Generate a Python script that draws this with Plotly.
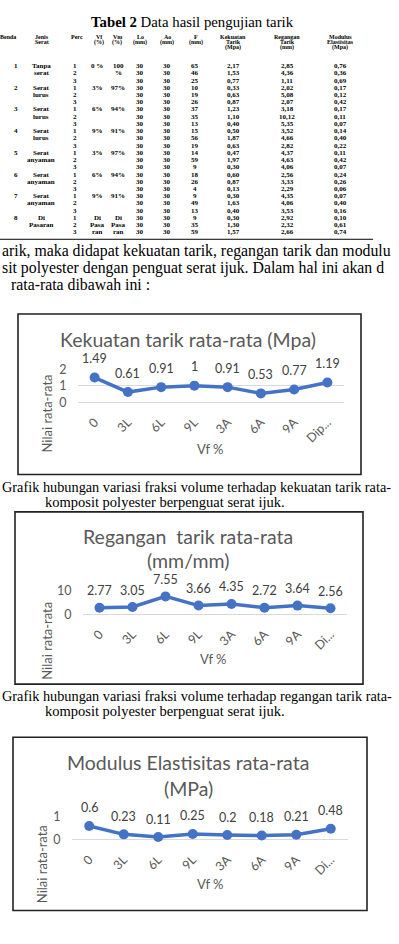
import plotly.graph_objects as go

W, H = 399, 944
def px(x): return x / W
def py(y): return 1 - y / H

# ---------------- data ----------------
categories = ["0", "3L", "6L", "9L", "3A", "6A", "9A", "Dipasaran"]
ticks_kekuatan = ["0", "3L", "6L", "9L", "3A", "6A", "9A", "Dip..."]
ticks_regangan = ["0", "3L", "6L", "9L", "3A", "6A", "9A", "Di..."]
ticks_modulus = ["0", "3L", "6L", "9L", "3A", "6A", "9A", "Di..."]
kekuatan_avg = [1.49, 0.61, 0.91, 1, 0.91, 0.53, 0.77, 1.19]
regangan_avg = [2.77, 3.05, 7.55, 3.66, 4.35, 2.72, 3.64, 2.56]
modulus_avg = [0.6, 0.23, 0.11, 0.25, 0.2, 0.18, 0.21, 0.48]

tbl_benda = ["1", "", "", "2", "", "", "3", "", "", "4", "", "", "5", "", "", "6", "", "", "7", "", "", "8", "", ""]
tbl_jenis = ["Tanpa", "serat", "", "Serat", "lurus", "", "Serat", "lurus", "", "Serat", "lurus", "",
             "Serat", "anyaman", "", "Serat", "anyaman", "", "Serat", "anyaman", "", "Di", "Pasaran", ""]
tbl_perc = ["1", "2", "3"] * 8
tbl_vf = ["0 %", "", "", "3%", "", "", "6%", "", "", "9%", "", "", "3%", "", "", "6%", "", "", "9%", "", "",
          "Di", "Pasa", "ran"]
tbl_vm = ["100", "%", "", "97%", "", "", "94%", "", "", "91%", "", "", "97%", "", "", "94%", "", "", "91%", "", "",
          "Di", "Pasa", "ran"]
tbl_lo = ["30"] * 24
tbl_ao = ["30"] * 24
tbl_f = ["65", "46", "25", "10", "19", "26", "37", "35", "13", "15", "56", "19",
         "14", "59", "9", "18", "26", "4", "9", "49", "13", "9", "35", "59"]
tbl_kekuatan = ["2,17", "1,53", "0,77", "0,33", "0,63", "0,87", "1,23", "1,10", "0,40", "0,50", "1,87", "0,63",
                "0,47", "1,97", "0,30", "0,60", "0,87", "0,13", "0,30", "1,63", "0,40", "0,30", "1,30", "1,57"]
tbl_regangan = ["2,85", "4,36", "1,11", "2,02", "5,08", "2,07", "3,18", "10,12", "5,35", "3,52", "4,66", "2,82",
                "4,37", "4,63", "4,06", "2,56", "3,33", "2,29", "4,35", "4,06", "3,53", "2,92", "2,32", "2,66"]
tbl_modulus = ["0,76", "0,36", "0,69", "0,17", "0,12", "0,42", "0,17", "0,11", "0,07", "0,14", "0,40", "0,22",
               "0,11", "0,42", "0,07", "0,24", "0,26", "0,06", "0,07", "0,40", "0,16", "0,10", "0,61", "0,74"]
tbl_headers = [["Benda"], ["Jenis", "Serat"], ["Perc"], ["Vf", "(%)"], ["Vm", "(%)"], ["Lo", "(mm)"],
               ["Ao", "(mm)"], ["F", "(mm)"], ["Kekuatan", "Tarik", "(Mpa)"], ["Regangan", "Tarik", "(mm)"],
               ["Modulus", "Elastisitas", "(Mpa)"]]

# ---------------- layout helpers ----------------
fig = go.Figure()
ann = []
shapes = []
SERIF = "Liberation Serif"
SANS = "Lato"
GREY = "#595959"

def text(x, y, s, size, family=SERIF, color="black", xanchor="center", **kw):
    ann.append(dict(x=px(x), y=py(y), xref="paper", yref="paper", text=s, showarrow=False,
                    xanchor=xanchor, yanchor="middle", font=dict(size=size, family=family, color=color), **kw))

# Table title
text(192, 14, "<b>Tabel 2</b> Data hasil pengujian tarik", 14.8)

col_x = [8, 42, 77, 99, 117, 140, 167, 196, 233, 287, 340]
for cx, lines in zip(col_x, tbl_headers):
    for j, ln in enumerate(lines):
        text(cx, 29.5 + 5.3 * j, "<b>" + ln + "</b>", 6)

val_x = [16, 41, 75, 97, 118, 140, 167, 195, 233, 287, 340]
cols = [tbl_benda, tbl_jenis, tbl_perc, tbl_vf, tbl_vm, tbl_lo, tbl_ao, tbl_f, tbl_kekuatan, tbl_regangan, tbl_modulus]
for i in range(24):
    yy = 59 + 7.35 * i
    for cx, col in zip(val_x, cols):
        if col[i]:
            text(cx, yy, "<b>" + col[i] + "</b>", 7)

shapes.append(dict(type="line", xref="paper", yref="paper", x0=px(0), x1=px(373), y0=py(235), y1=py(235),
                   line=dict(color="black", width=1)))

# paragraph (visible part of the cropped page)
text(0, 247, "arik, maka didapat kekuatan tarik, regangan tarik dan modulu", 15.8, xanchor="left")
text(0, 264, "sit polyester dengan penguat serat ijuk. Dalam hal ini akan d", 15.8, xanchor="left")
text(9, 281, "rata-rata dibawah ini :", 15.8, xanchor="left")

# captions
text(0, 487, "Grafik hubungan variasi fraksi volume terhadap kekuatan tarik rata-", 14.3, xanchor="left")
text(43, 502, "komposit polyester berpenguat serat ijuk.", 14.5, xanchor="left")
text(0, 699, "Grafik hubungan variasi fraksi volume terhadap regangan tarik rata-", 14.3, xanchor="left")
text(43, 714, "komposit polyester berpenguat serat ijuk.", 14.5, xanchor="left")

# ---------------- charts ----------------
charts = [
    dict(vals=kekuatan_avg, ticks=ticks_kekuatan, title=["Kekuatan tarik rata-rata (Mpa)"], box=(18, 311, 361, 474),
         plotx=(78, 344), y0=400.5, y1=367, rng=[0, 2], tv=[0, 1, 2], titley=[337], ytitle=(47, 412), xtitle=(210, 448),
         lab=19),
    dict(vals=regangan_avg, ticks=ticks_regangan, title=["Regangan  tarik rata-rata", "(mm/mm)"], box=(15, 512, 363, 687),
         plotx=(83, 347), y0=616, y1=592, rng=[0, 10], tv=[0, 10], titley=[537, 561], ytitle=(47, 643), xtitle=(213, 662),
         lab=17),
    dict(vals=modulus_avg, ticks=ticks_modulus, title=["Modulus Elastisitas rata-rata", "(MPa)"], box=(13, 741, 367, 917),
         plotx=(72, 348), y0=845, y1=822, rng=[0, 1], tv=[0, 1], titley=[767, 793], ytitle=(42, 870), xtitle=(210, 890),
         lab=18),
]

for k, c in enumerate(charts, start=1):
    xa = "x" if k == 1 else f"x{k}"
    ya = "y" if k == 1 else f"y{k}"
    fig.add_trace(go.Scatter(x=categories, y=c["vals"], mode="lines+markers", xaxis=xa, yaxis=ya,
                             line=dict(color="#4472C4", width=3.5), marker=dict(size=10, color="#4472C4"),
                             cliponaxis=False, showlegend=False, hoverinfo="skip"))
    for cat, v in zip(categories, c["vals"]):
        ann.append(dict(x=cat, y=v, xref=xa, yref=ya, text=f"{v:g}", showarrow=False, yshift=c["lab"],
                        font=dict(size=12.5, family=SANS, color="#404040")))
    x0, y0b, x1, y1b = c["box"]
    shapes.append(dict(type="rect", xref="paper", yref="paper", x0=px(x0), x1=px(x1), y0=py(y1b), y1=py(y0b),
                       line=dict(color="#222222", width=1.6)))
    cx = 188
    for t, ty in zip(c["title"], c["titley"]):
        text(cx, ty, t, 19.5, family=SANS, color=GREY)
    text(c["ytitle"][0], c["ytitle"][1], "Nilai rata-rata", 13, family=SANS, color=GREY, textangle=-90)
    text(c["xtitle"][0], c["xtitle"][1], "Vf %", 13, family=SANS, color=GREY)
    key = "" if k == 1 else str(k)
    fig.layout["xaxis" + key] = dict(domain=[px(c["plotx"][0]), px(c["plotx"][1])], anchor=ya, type="category",
                                     range=[-0.5, 7.5], showgrid=False, showline=False, zeroline=False,
                                     tickvals=categories, ticktext=c["ticks"], tickangle=-45,
                                     ticks="outside", ticklen=7, tickcolor="rgba(0,0,0,0)",
                                     tickfont=dict(size=12.5, family=SANS, color=GREY))
    fig.layout["yaxis" + key] = dict(domain=[py(c["y0"]), py(c["y1"])], anchor=xa, range=c["rng"],
                                     tickvals=c["tv"], showgrid=True, gridcolor="#d9d9d9", gridwidth=1,
                                     zeroline=True, zerolinecolor="#d9d9d9", zerolinewidth=1, showline=False,
                                     ticks="outside", ticklen=8, tickcolor="rgba(0,0,0,0)",
                                     tickfont=dict(size=12.5, family=SANS, color=GREY))

fig.update_layout(width=W, height=H, margin=dict(l=0, r=0, t=0, b=0), paper_bgcolor="white",
                  plot_bgcolor="rgba(0,0,0,0)", annotations=ann, shapes=shapes)
fig.write_html("out.html", config={"displayModeBar": False})
